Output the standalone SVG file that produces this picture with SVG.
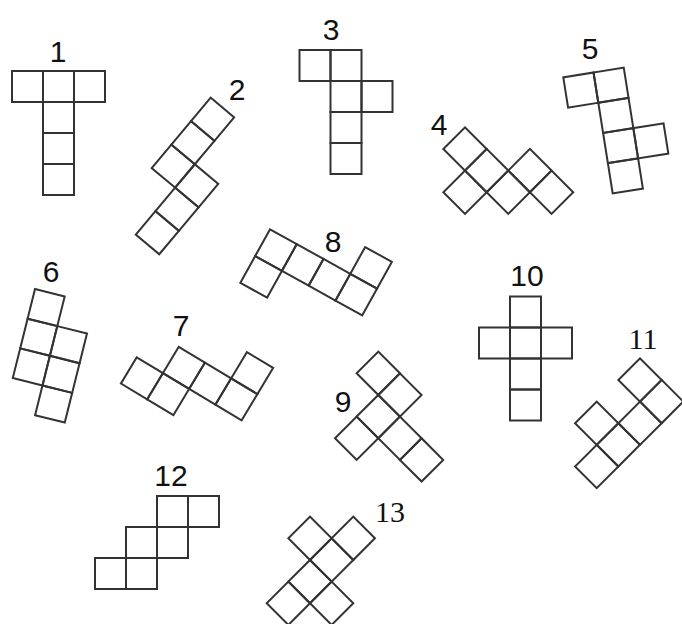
<svg xmlns="http://www.w3.org/2000/svg" xmlns:xlink="http://www.w3.org/1999/xlink" width="682" height="624" viewBox="0 0 682 624">
<style>
  .c{fill:none;stroke:#333;stroke-width:2;stroke-linejoin:miter}
  .n{font-family:"Liberation Sans",Arial,sans-serif;font-size:30px;fill:#111;text-anchor:middle}
  .ns{font-family:"Liberation Serif","Times New Roman",serif;font-size:30px;fill:#111;text-anchor:middle}
</style>
<defs>
  <rect id="q" class="c" width="31" height="31"/>
  <rect id="d" class="c" width="30.6" height="30.6"/>
</defs>
<rect width="682" height="624" fill="#fff"/>
<g id="connectors"/>

<g id="net1">
  <text class="n" x="58" y="62">1</text>
  <g transform="translate(12,71)">
    <use href="#q" x="0" y="0"/><use href="#q" x="31" y="0"/><use href="#q" x="62" y="0"/>
    <use href="#q" x="31" y="31"/><use href="#q" x="31" y="62"/><use href="#q" x="31" y="93"/>
  </g>
</g>

<g id="net2">
  <text class="n" x="237" y="100">2</text>
  <g transform="translate(210.7,97.7) rotate(40)">
    <use href="#d" x="0" y="0"/><use href="#d" x="0" y="30.6"/><use href="#d" x="0" y="61.2"/>
    <use href="#d" x="30.6" y="61.2"/><use href="#d" x="30.6" y="91.8"/><use href="#d" x="30.6" y="122.4"/>
  </g>
</g>

<g id="net3">
  <text class="n" x="331" y="40">3</text>
  <g transform="translate(299.5,50)">
    <use href="#q" x="0" y="0"/><use href="#q" x="31" y="0"/><use href="#q" x="31" y="31"/>
    <use href="#q" x="62" y="31"/><use href="#q" x="31" y="62"/><use href="#q" x="31" y="93"/>
  </g>
</g>

<g id="net4">
  <text class="n" x="439" y="135">4</text>
  <g transform="translate(465,127.3) rotate(45)">
    <use href="#d" x="0" y="0"/><use href="#d" x="30.6" y="0"/><use href="#d" x="30.6" y="30.6"/>
    <use href="#d" x="61.2" y="0"/><use href="#d" x="61.2" y="-30.6"/><use href="#d" x="91.8" y="-30.6"/>
  </g>
</g>

<g id="net5">
  <text class="n" x="590" y="59">5</text>
  <g transform="translate(563.3,77.3) rotate(-9)">
    <use href="#d" x="0" y="0"/><use href="#d" x="30.6" y="0"/><use href="#d" x="30.6" y="30.6"/>
    <use href="#d" x="30.6" y="61.2"/><use href="#d" x="61.2" y="61.2"/><use href="#d" x="30.6" y="91.8"/>
  </g>
</g>

<g id="net6">
  <text class="n" x="51" y="282">6</text>
  <g transform="translate(35,289) rotate(14)">
    <use href="#d" x="0" y="0"/><use href="#d" x="0" y="30.6"/><use href="#d" x="0" y="61.2"/>
    <use href="#d" x="30.6" y="30.6"/><use href="#d" x="30.6" y="61.2"/><use href="#d" x="30.6" y="91.8"/>
  </g>
</g>

<g id="net7">
  <text class="n" x="181" y="336">7</text>
  <g transform="translate(136.7,357.3) rotate(31)">
    <use href="#d" x="0" y="0"/><use href="#d" x="30.6" y="0"/><use href="#d" x="30.6" y="-30.6"/>
    <use href="#d" x="61.2" y="-30.6"/><use href="#d" x="91.8" y="-30.6"/><use href="#d" x="91.8" y="-61.2"/>
  </g>
</g>

<g id="net8">
  <text class="n" x="333" y="252">8</text>
  <g transform="translate(270,229.3) rotate(29)">
    <use href="#d" x="0" y="0"/><use href="#d" x="0" y="30.6"/><use href="#d" x="30.6" y="0"/>
    <use href="#d" x="61.2" y="0"/><use href="#d" x="91.8" y="0"/><use href="#d" x="91.8" y="-30.6"/>
  </g>
</g>

<g id="net9">
  <text class="n" x="343" y="412">9</text>
  <g transform="translate(378.3,351.7) rotate(45)">
    <use href="#d" x="0" y="0"/><use href="#d" x="30.6" y="0"/><use href="#d" x="30.6" y="30.6"/>
    <use href="#d" x="30.6" y="61.2"/><use href="#d" x="61.2" y="30.6"/><use href="#d" x="91.8" y="30.6"/>
  </g>
</g>

<g id="net10">
  <text class="n" x="527" y="286">10</text>
  <g transform="translate(479,296.5)">
    <use href="#q" x="31" y="0"/><use href="#q" x="0" y="31"/><use href="#q" x="31" y="31"/>
    <use href="#q" x="62" y="31"/><use href="#q" x="31" y="62"/><use href="#q" x="31" y="93"/>
  </g>
</g>

<g id="net11">
  <text class="ns" x="643" y="349">11</text>
  <g transform="translate(640,358.3) rotate(45)">
    <use href="#d" x="0" y="0"/><use href="#d" x="30.6" y="0"/><use href="#d" x="30.6" y="30.6"/>
    <use href="#d" x="0" y="61.2"/><use href="#d" x="30.6" y="61.2"/><use href="#d" x="30.6" y="91.8"/>
  </g>
</g>

<g id="net12">
  <text class="n" x="171" y="486">12</text>
  <g transform="translate(95,496)">
    <use href="#q" x="62" y="0"/><use href="#q" x="93" y="0"/><use href="#q" x="31" y="31"/>
    <use href="#q" x="62" y="31"/><use href="#q" x="0" y="62"/><use href="#q" x="31" y="62"/>
  </g>
</g>

<g id="net13">
  <text class="ns" x="390" y="522">13</text>
  <g transform="translate(310,516.7) rotate(45)">
    <use href="#d" x="0" y="0"/><use href="#d" x="30.6" y="-30.6"/><use href="#d" x="30.6" y="0"/>
    <use href="#d" x="30.6" y="30.6"/><use href="#d" x="30.6" y="61.2"/><use href="#d" x="61.2" y="30.6"/>
  </g>
</g>
</svg>
